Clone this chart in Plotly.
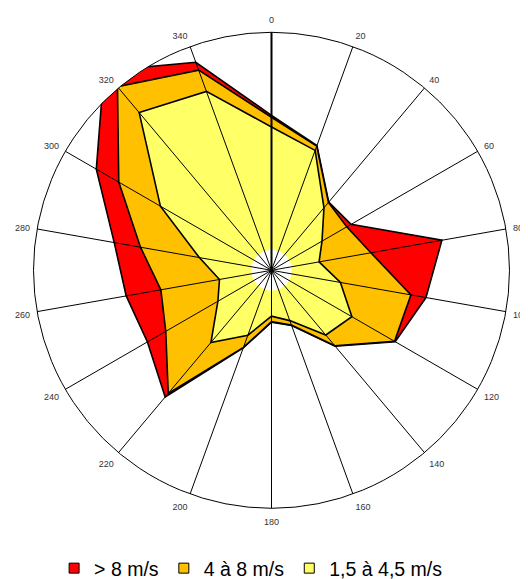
import plotly.graph_objects as go

# Directions (degrees, clockwise from north)
directions = [0, 20, 40, 60, 80, 100, 120, 140, 160, 180, 200, 220, 240, 260, 280, 300, 320, 340]
tick_labels = [str(d) for d in directions]

# Cumulative frequencies per class (outer ring = 10)
fort = [6.51, 5.58, 3.74, 3.86, 7.27, 6.59, 6.00, 4.16, 2.47, 2.18, 3.47, 6.95, 6.02, 6.20, 6.71, 8.50, 10.95, 9.30]
moyen = [6.43, 5.55, 3.72, 3.65, 4.24, 5.95, 5.97, 4.14, 2.45, 2.16, 3.45, 6.75, 5.13, 4.72, 5.59, 7.41, 10.07, 8.95]
faible = [6.02, 5.36, 3.43, 2.45, 2.03, 2.94, 3.90, 3.55, 2.25, 1.93, 2.90, 3.96, 2.60, 2.22, 3.08, 5.39, 8.65, 8.00]
calme = [0.85] * 18

series_names = ["> 8 m/s", "4 à 8 m/s", "1,5 à 4,5 m/s"]
series_colors = ["#FF0000", "#FFC000", "#FFFF66"]
series_values = [fort, moyen, faible]

r_max = 10
font_family = "Liberation Sans, Arial, sans-serif"

fig = go.Figure()

def closed(v):
    return list(v) + [v[0]]

theta_closed = closed(directions)

for name, color, vals in zip(series_names, series_colors, series_values):
    fig.add_trace(go.Scatterpolar(
        r=closed(vals), theta=theta_closed, mode="lines",
        fill="toself", fillcolor=color,
        line=dict(color="black", width=1.6),
        name=name, legendgroup=name, showlegend=False,
        subplot="polar", hoverinfo="skip"))

# calm (white disc at centre)
fig.add_trace(go.Scatterpolar(
    r=closed(calme), theta=theta_closed, mode="lines",
    fill="toself", fillcolor="white",
    line=dict(color="white", width=0, shape="spline"),
    showlegend=False, subplot="polar", hoverinfo="skip"))

# legend entries (square symbols), drawn on overlay subplot
for name, color in zip(series_names, series_colors):
    fig.add_trace(go.Scatterpolar(
        r=[None], theta=[None], mode="markers",
        marker=dict(symbol="square", size=10, color=color,
                    line=dict(color="black", width=1)),
        name=name, legendgroup=name, subplot="polar2", hoverinfo="skip"))

dom_x = [0.04904, 0.96442]
dom_y = [0.14038, 0.95825]

fig.update_layout(
    width=520, height=582,
    margin=dict(l=0, r=0, t=0, b=0, autoexpand=False),
    paper_bgcolor="white",
    font=dict(family=font_family, color="black"),
    polar=dict(
        domain=dict(x=dom_x, y=dom_y),
        bgcolor="white",
        angularaxis=dict(direction="clockwise", rotation=90,
                         tickmode="array", tickvals=directions,
                         showgrid=False, showline=False,
                         showticklabels=False, ticks=""),
        radialaxis=dict(range=[0, r_max], visible=False),
    ),
    polar2=dict(
        domain=dict(x=dom_x, y=dom_y),
        bgcolor="rgba(0,0,0,0)",
        angularaxis=dict(direction="clockwise", rotation=90,
                         tickmode="array", tickvals=directions,
                         ticktext=tick_labels,
                         showgrid=True, gridcolor="black", gridwidth=1,
                         showline=True, linecolor="black", linewidth=1,
                         ticks="outside", ticklen=5, tickcolor="rgba(0,0,0,0)",
                         tickfont=dict(size=9, color="#333333",
                                       family=font_family)),
        radialaxis=dict(range=[0, r_max], angle=90,
                        showgrid=False, showline=True,
                        linecolor="black", linewidth=2,
                        showticklabels=False, ticks=""),
    ),
    legend=dict(orientation="h", x=0.4675, xanchor="center",
                y=0.0035, yanchor="bottom",
                font=dict(size=19.5, family=font_family, color="black"),
                bgcolor="rgba(0,0,0,0)"),
    showlegend=True,
)

fig.write_html("out.html")
